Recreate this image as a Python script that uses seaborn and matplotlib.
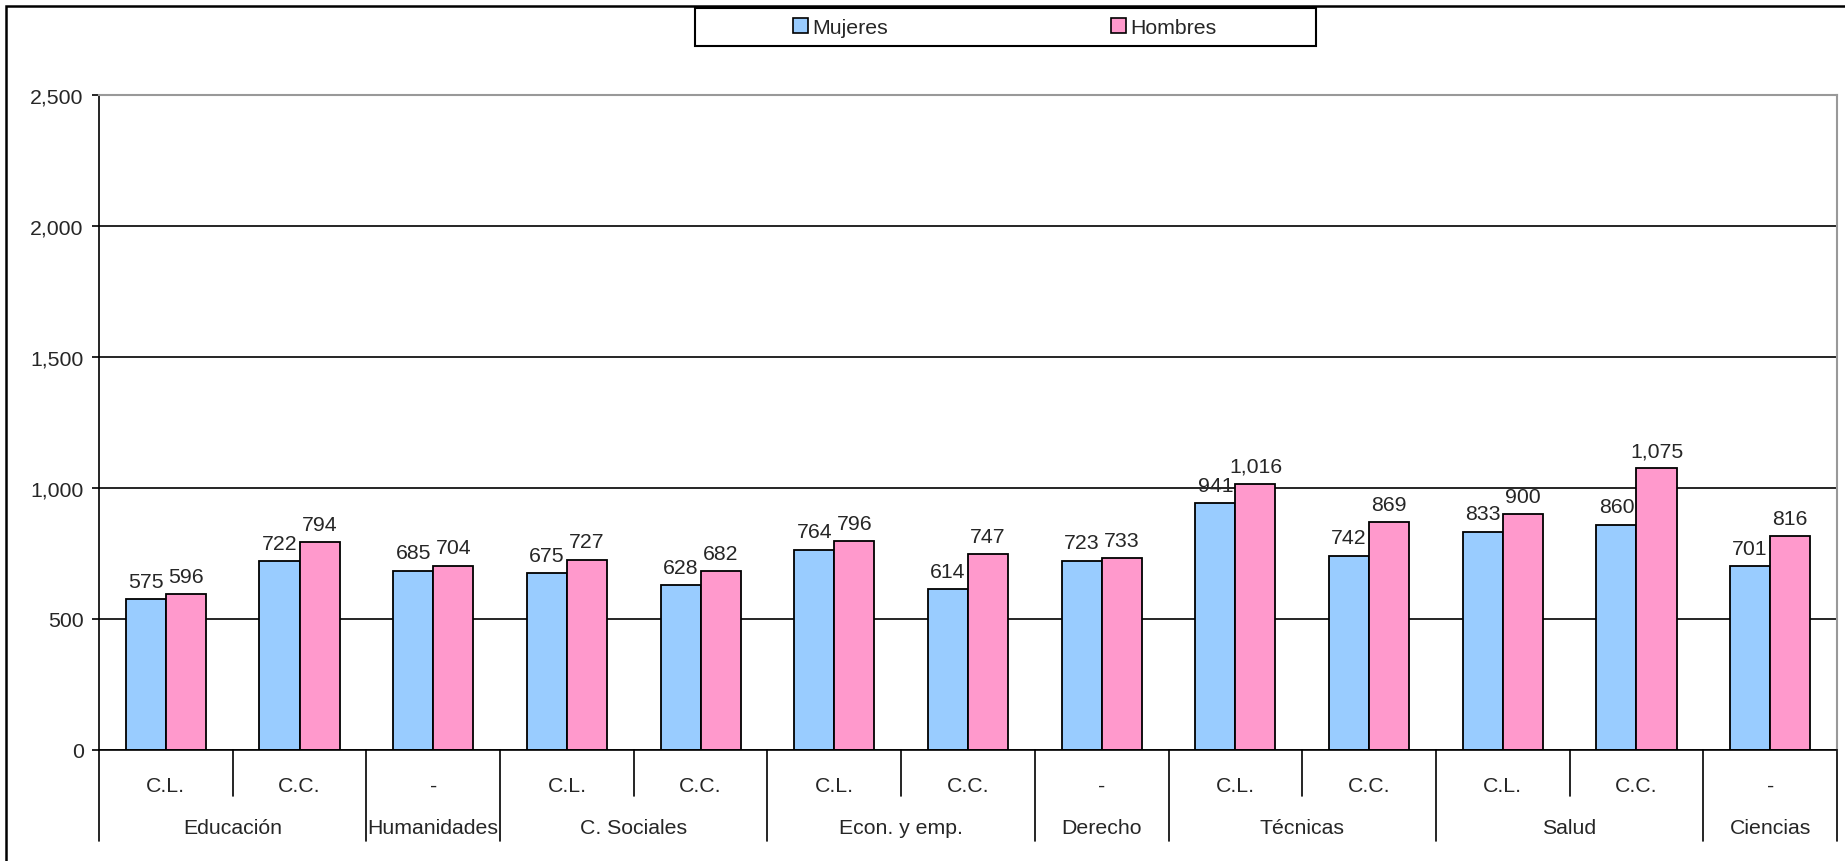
import numpy as np
import pandas as pd
import seaborn as sns
import matplotlib.pyplot as plt
from matplotlib.patches import Patch, Rectangle
from matplotlib.ticker import FuncFormatter
import matplotlib.transforms as mtransforms

# datos del gráfico
subcats = ["C.L.", "C.C.", "-", "C.L.", "C.C.", "C.L.", "C.C.", "-",
           "C.L.", "C.C.", "C.L.", "C.C.", "-"]
groups = ["Educación", "Humanidades", "C. Sociales", "Econ. y emp.",
          "Derecho", "Técnicas", "Salud", "Ciencias"]
group_sizes = [2, 1, 2, 2, 1, 2, 2, 1]
mujeres = [575, 722, 685, 675, 628, 764, 614, 723, 941, 742, 833, 860, 701]
hombres = [596, 794, 704, 727, 682, 796, 747, 733, 1016, 869, 900, 1075, 816]
series = ["Mujeres", "Hombres"]
colors = ["#99CCFF", "#FF99CC"]

sns.set_style("white")
plt.rcParams["font.family"] = ["Liberation Sans", "DejaVu Sans"]
fs = 15.3

n = len(subcats)
df = pd.DataFrame({
    "cat": list(range(n)) * 2,
    "valor": mujeres + hombres,
    "sexo": [series[0]] * n + [series[1]] * n,
})

fig = plt.figure(figsize=(18.45, 8.62), dpi=100)
ax = fig.add_axes([99 / 1845, 1 - 751 / 862, (1837 - 99) / 1845, (751 - 96) / 862])

sns.barplot(data=df, x="cat", y="valor", hue="sexo", palette=colors,
            saturation=1, edgecolor="black", linewidth=1.3, width=0.6, ax=ax,
            legend=False, errorbar=None)

for c in ax.containers:
    ax.bar_label(c, fmt="{:,.0f}", padding=6, fontsize=fs)

ax.set_xlim(-0.5, n - 0.5)
ax.set_ylim(0, 2500)
ax.set_yticks(np.arange(0, 2501, 500))
ax.yaxis.set_major_formatter(FuncFormatter(lambda v, p: f"{v:,.0f}"))
ax.tick_params(axis="y", direction="out", length=5, width=1.2, color="black",
               labelsize=fs, pad=6, left=True)
ax.set_xticks([])
ax.set_xlabel("")
ax.set_ylabel("")
ax.grid(axis="y", color="black", linewidth=1.2)
ax.set_axisbelow(True)
for s in ["left", "bottom"]:
    ax.spines[s].set_color("black")
    ax.spines[s].set_linewidth(1.2)
for s in ["top", "right"]:
    ax.spines[s].set_color("#999999")
    ax.spines[s].set_linewidth(1.5)

# etiquetas del eje x en dos niveles
trans = mtransforms.blended_transform_factory(ax.transData, ax.transAxes)
for i, lab in enumerate(subcats):
    ax.text(i, -0.054, lab, transform=trans, ha="center", va="center", fontsize=fs)

start = 0
long_edges = [0]
for g, size in zip(groups, group_sizes):
    ax.text(start + (size - 1) / 2, -0.118, g, transform=trans,
            ha="center", va="center", fontsize=fs)
    start += size
    long_edges.append(start)

for b in range(n + 1):
    y_end = -0.139 if b in long_edges else -0.070
    ax.plot([b - 0.5, b - 0.5], [0, y_end], transform=trans, color="black",
            linewidth=1.2, clip_on=False)

# leyenda
handles = [Patch(facecolor=c, edgecolor="black", linewidth=1.2) for c in colors]
fig.legend(handles, series, loc="center", bbox_to_anchor=(1005 / 1845, 1 - 28 / 862),
           ncol=2, frameon=False, fontsize=fs, handlelength=0.7, handleheight=0.7,
           handletextpad=0.2, columnspacing=10.5)
fig.add_artist(Rectangle((695 / 1845, 1 - 47 / 862), (1316 - 695) / 1845, 38 / 862,
                         transform=fig.transFigure, fill=False, edgecolor="black",
                         linewidth=1.5))

# marco exterior
fig.add_artist(Rectangle((6 / 1845, -0.1), 1.2, 1.1 - 7 / 862,
                         transform=fig.transFigure, fill=False, edgecolor="black",
                         linewidth=1.8))

fig.savefig("out.png", dpi=100, facecolor="white")
